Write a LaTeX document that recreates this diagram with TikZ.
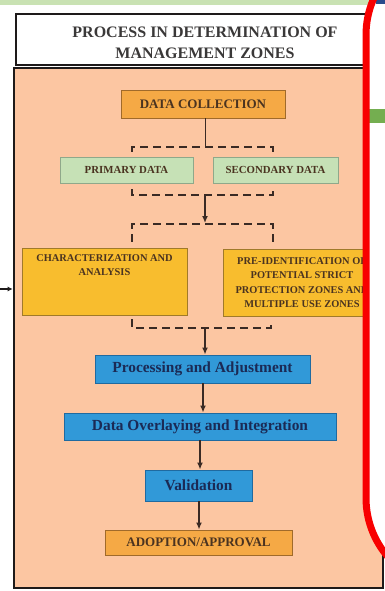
\documentclass[tikz,border=0pt]{standalone}
\usepackage{fontspec}
\setmainfont{Liberation Serif}
\usetikzlibrary{arrows.meta,calc}

\definecolor{bandgreen}{HTML}{C9E2B3}
\definecolor{peach}{HTML}{FCC6A2}
\definecolor{frameink}{HTML}{1E1A1A}
\definecolor{titleink}{HTML}{3A3838}
\definecolor{dcorange}{HTML}{F5A945}
\definecolor{dcedge}{HTML}{A06A2A}
\definecolor{boxgreen}{HTML}{C6E1B6}
\definecolor{greenedge}{HTML}{8FA88A}
\definecolor{boxyellow}{HTML}{F8BD2E}
\definecolor{yellowedge}{HTML}{A07A2A}
\definecolor{boxblue}{HTML}{3199D8}
\definecolor{blueedge}{HTML}{1F6AA0}
\definecolor{navyink}{HTML}{1B2A55}
\definecolor{brownink}{HTML}{4A3320}
\definecolor{linkink}{HTML}{3A2A24}
\definecolor{markred}{HTML}{F80000}
\definecolor{slidegreen}{HTML}{74AE50}
\definecolor{slideblue}{HTML}{2A4B8C}

\tikzset{
  stepbox/.style={draw, line width=0.9pt, inner sep=0pt, align=center},
  orangebox/.style={stepbox, fill=dcorange, draw=dcedge, text=brownink,
    font=\fontsize{13}{15}\selectfont\bfseries},
  greenbox/.style={stepbox, fill=boxgreen, draw=greenedge, text=brownink,
    font=\fontsize{10.8}{13}\selectfont\bfseries},
  yellowbox/.style={stepbox, fill=boxyellow, draw=yellowedge, text=brownink,
    font=\fontsize{10.4}{14.5}\selectfont\bfseries},
  bluebox/.style={stepbox, fill=boxblue, draw=blueedge, text=navyink,
    font=\fontsize{15.4}{17}\selectfont\bfseries},
  flow/.style={draw=linkink, line width=1.4pt, -{Latex[length=7pt,width=6pt]}},
  bracket/.style={draw=linkink, line width=2.2pt, dash pattern=on 8pt off 5pt},
}

\begin{document}
\begin{tikzpicture}[x=1pt,y=-1pt]
\useasboundingbox (0,0) rectangle (385,591);
\clip (0,0) rectangle (385,591);
\fill[white] (0,0) rectangle (385,591);

% strip along the top edge
\fill[bandgreen] (0,0) rectangle (370,5);

% panel and heading box
\node[draw=frameink, fill=peach, line width=2.6pt, minimum width=369pt,
      minimum height=520pt, inner sep=0pt] (panel) at (198.5,328) {};
\node[draw=frameink, fill=white, line width=2.4pt, minimum width=352pt,
      minimum height=51pt, inner sep=0pt] (headbox) at (192,39.5) {};
\node[text=titleink, align=center,
      font=\fontsize{16}{21}\selectfont\bfseries] (title) at (205,42.5)
      {PROCESS IN DETERMINATION OF\\MANAGEMENT ZONES};

% steps
\node[orangebox, minimum width=164pt, minimum height=28pt] (dc) at (203,104)
  {DATA COLLECTION};
\node[greenbox, minimum width=133pt, minimum height=26pt] (prim) at (126.5,170)
  {PRIMARY DATA};
\node[greenbox, minimum width=125pt, minimum height=26pt] (sec) at (275.5,170)
  {SECONDARY DATA};
\node[yellowbox, minimum width=165pt, minimum height=67pt] (char) at (104.5,281.5)
  {CHARACTERIZATION AND\\ANALYSIS\\\strut\\\strut};
\node[yellowbox, minimum width=158pt, minimum height=67pt] (pre) at (302,282.5)
  {PRE-IDENTIFICATION OF\\POTENTIAL STRICT\\PROTECTION ZONES AND\\MULTIPLE USE ZONES};
\node[bluebox, minimum width=215pt, minimum height=28pt] (proc) at (202.5,369)
  {Processing and Adjustment};
\node[bluebox, minimum width=272pt, minimum height=27pt] (ovl) at (200,426.5)
  {Data Overlaying and Integration};
\node[bluebox, minimum width=107pt, minimum height=31pt] (val) at (198.5,485.5)
  {Validation};
\node[orangebox, minimum width=187pt, minimum height=25pt] (adopt) at (198.5,542.5)
  {ADOPTION/APPROVAL};

% bracket lines
\coordinate (b1l) at (132,147);  \coordinate (b1m) at (205,147);  \coordinate (b1r) at (273,147);
\coordinate (b2l) at (132,195);  \coordinate (b2m) at (205,195);  \coordinate (b2r) at (273,195);
\coordinate (b3l) at (132,224);  \coordinate (b3m) at (205,224);  \coordinate (b3r) at (273,224);
\coordinate (b4l) at (132,328);  \coordinate (b4m) at (205,328);  \coordinate (b4r) at (271,328);

% columns of the lower arrows
\coordinate (c1) at (203,0);
\coordinate (c2) at (200,0);
\coordinate (c3) at (199,0);

\draw[draw=linkink, line width=1pt] (dc.south -| b1m) -- (b1m);
\draw[bracket] ([yshift=5pt]b1l |- prim.north) -- (b1l) -- (b1r) -- ([yshift=5pt]b1r |- sec.north);
\draw[bracket] ([yshift=-6pt]b2l |- prim.south) -- (b2l) -- (b2r) -- ([yshift=-6pt]b2r |- sec.south);
\draw[flow] (b2m) -- ([yshift=1pt]b3m);
\draw[bracket] ([yshift=6pt]b3l |- char.north) -- (b3l) -- (b3r) -- ([yshift=6pt]b3r |- pre.north);
\draw[bracket] ([yshift=-4pt]b4l |- char.south) -- (b4l) -- (b4r) -- ([yshift=-4pt]b4r |- pre.south);
\draw[flow] (b4m) -- (b4m |- proc.north);
\draw[flow] (c1 |- proc.south) -- (c1 |- ovl.north);
\draw[flow] (c2 |- ovl.south) -- (c2 |- val.north);
\draw[flow] (c3 |- val.south) -- (c3 |- adopt.north);

% incoming arrow at the left edge
\coordinate (feed) at (0,289);
\draw[draw=frameink, line width=1.2pt, -{Latex[length=5pt,width=5pt]}] (feed) -- (feed -| panel.west);

% neighbouring slide behind the red outline
\fill[white, rounded corners=90pt] (600,-55) -- (366,-55) -- (366,588) -- (600,588) -- cycle;
\fill[slideblue] (376,0) rectangle (385,4);
\fill[slidegreen] (368,109) rectangle (385,123);
\draw[markred, line width=7pt, rounded corners=90pt] (600,-55) -- (366,-55) -- (366,588) -- (600,588);
\end{tikzpicture}
\end{document}
